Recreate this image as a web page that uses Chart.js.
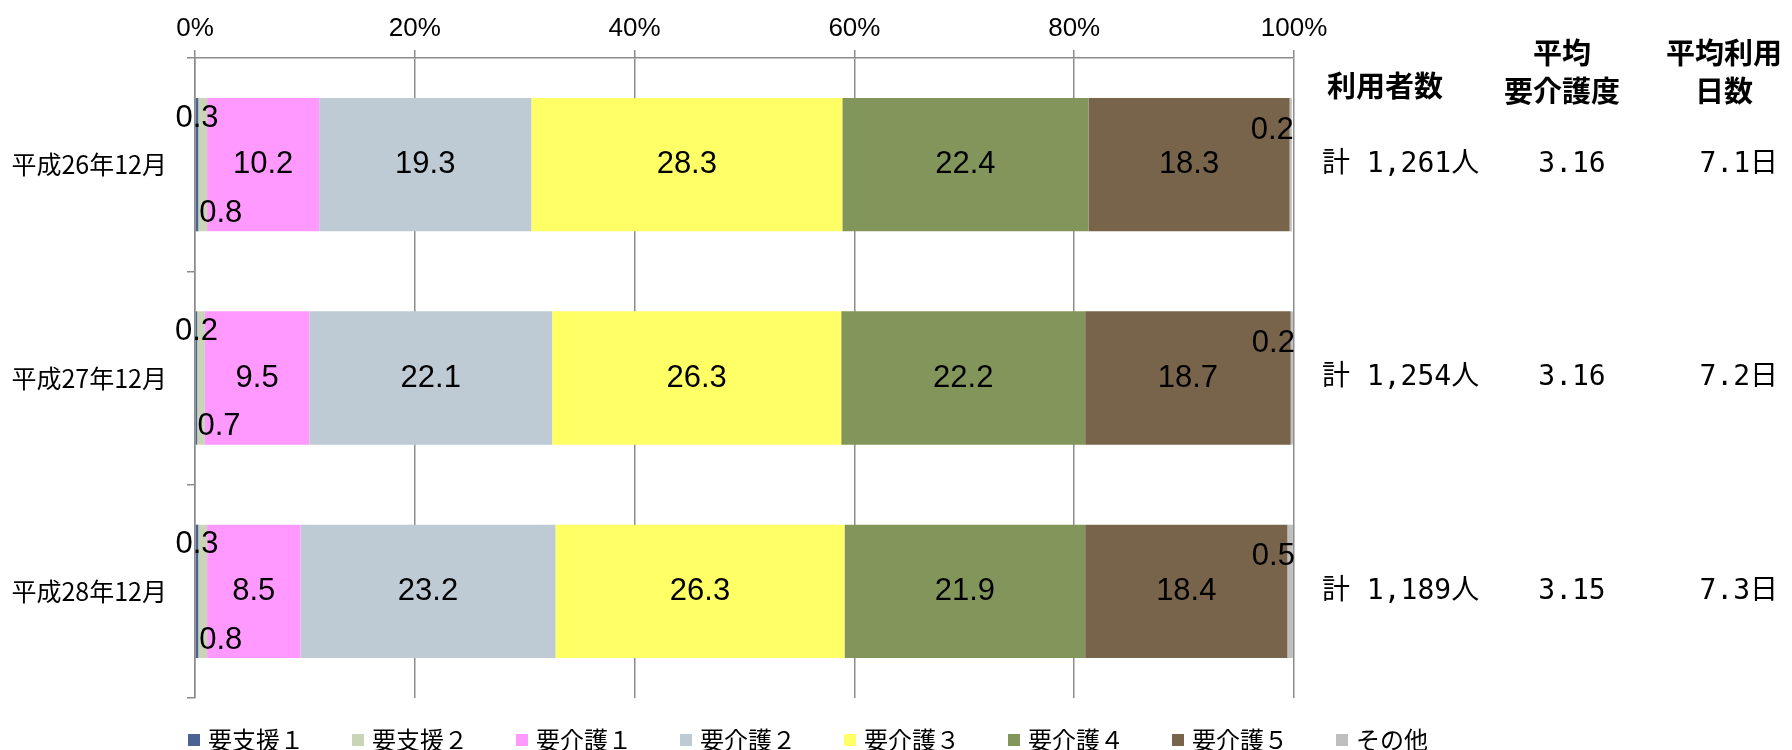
<!DOCTYPE html>
<html><head><meta charset="utf-8">
<script src="https://cdn.jsdelivr.net/npm/chart.js@4.4.1/dist/chart.umd.min.js"></script>
<style>html,body{margin:0;padding:0;background:#fff;}canvas{display:block;}</style>
</head><body>
<canvas id="c" width="1792" height="750"></canvas>
<script>
// ---- data ----
const categories = ['平成26年12月', '平成27年12月', '平成28年12月'];
const seriesNames = ['要支援１', '要支援２', '要介護１', '要介護２', '要介護３', '要介護４', '要介護５', 'その他'];
const shien1 = [0.3, 0.2, 0.3];
const shien2 = [0.8, 0.7, 0.8];
const kaigo1 = [10.2, 9.5, 8.5];
const kaigo2 = [19.3, 22.1, 23.2];
const kaigo3 = [28.3, 26.3, 26.3];
const kaigo4 = [22.4, 22.2, 21.9];
const kaigo5 = [18.3, 18.7, 18.4];
const sonota = [0.2, 0.2, 0.5];
const xTicks = [0, 20, 40, 60, 80, 100];
const tableHeaders = [['利用者数'], ['平均', '要介護度'], ['平均利用', '日数']];
const userCounts = ['計 1,261人', '計 1,254人', '計 1,189人'];
const avgCare = ['3.16', '3.16', '3.15'];
const avgDays = ['7.1日', '7.2日', '7.3日'];

const seriesValues = [shien1, shien2, kaigo1, kaigo2, kaigo3, kaigo4, kaigo5, sonota];
const seriesColors = ['#4A6394', '#CAD5B8', '#FF99FF', '#BFCBD4', '#FFFF66', '#82955A', '#77644B', '#BFBFBF'];

const GRID = '#8c8c8c';
const JP = '"Noto Sans CJK JP", "Noto Sans", sans-serif';
const LAT = '"Liberation Sans", Arial, sans-serif';

const labelPlugin = {
  id: 'barLabels',
  afterDatasetsDraw(chart) {
    const ctx = chart.ctx;
    ctx.save();
    ctx.font = '31px ' + LAT;
    ctx.fillStyle = '#000';
    chart.data.datasets.forEach((ds, di) => {
      const meta = chart.getDatasetMeta(di);
      meta.data.forEach((bar, i) => {
        const p = bar.getProps(['x', 'y', 'base', 'height'], true);
        const txt = ds.data[i].toFixed(1);
        const top = p.y - p.height / 2, bottom = p.y + p.height / 2;
        const mid = (p.x + p.base) / 2;
        let tx = mid, ty = p.y, align = 'center';
        if (di === 0) { ty = top + 20; }
        else if (di === 1) { tx = mid + 18; ty = bottom - 18; }
        else if (di === 7) { tx = p.x + 2; align = 'right'; ty = top + 32; }
        ctx.textAlign = align;
        ctx.textBaseline = 'middle';
        ctx.fillText(txt, tx, ty);
      });
    });
    ctx.restore();
  }
};

const sidePlugin = {
  id: 'sideTable',
  afterDraw(chart) {
    const ctx = chart.ctx;
    const ys = chart.scales.y;
    ctx.save();
    ctx.fillStyle = '#000';
    ctx.textBaseline = 'middle';
    // headers
    ctx.font = 'bold 29px ' + JP;
    ctx.textAlign = 'center';
    const hx = [1385, 1562, 1724];
    tableHeaders.forEach((lines, k) => {
      if (lines.length === 1) {
        ctx.fillText(lines[0], hx[k], 86);
      } else {
        ctx.fillText(lines[0], hx[k], 53);
        ctx.fillText(lines[1], hx[k], 91);
      }
    });
    // values
    ctx.font = '28px "DejaVu Sans Mono", "Noto Sans CJK JP", monospace';
    categories.forEach((c, i) => {
      const y = ys.getPixelForValue(i);
      ctx.textAlign = 'left';
      ctx.fillText(userCounts[i], 1322, y);
      ctx.textAlign = 'center';
      ctx.fillText(avgCare[i], 1572, y);
      ctx.textAlign = 'right';
      ctx.fillText(avgDays[i], 1778, y);
    });
    // legend
    ctx.font = '24px ' + JP;
    ctx.textAlign = 'left';
    chart.data.datasets.forEach((ds, i) => {
      const x0 = 188 + i * 164;
      ctx.fillStyle = ds.backgroundColor;
      ctx.fillRect(x0, 734, 12, 12);
      ctx.fillStyle = '#000';
      ctx.fillText(ds.label, x0 + 20, 740);
    });
    ctx.restore();
  }
};

new Chart(document.getElementById('c'), {
  type: 'bar',
  data: {
    labels: categories,
    datasets: seriesNames.map((name, i) => ({
      label: name,
      data: seriesValues[i],
      backgroundColor: seriesColors[i],
      borderWidth: 0,
      categoryPercentage: 1.0,
      barPercentage: 0.625
    }))
  },
  options: {
    indexAxis: 'y',
    responsive: false,
    animation: false,
    devicePixelRatio: 1,
    layout: { padding: { left: 0, top: 0, right: 498, bottom: 52 } },
    plugins: { legend: { display: false }, tooltip: { enabled: false } },
    scales: {
      x: {
        type: 'linear',
        position: 'top',
        stacked: true,
        min: 0, max: 100,
        afterBuildTicks(scale) { scale.ticks = xTicks.map(v => ({ value: v })); },
        afterFit(scale) { scale.height = 58; },
        ticks: {
          callback: v => v + '%',
          font: { family: LAT, size: 26 },
          color: '#000',
          padding: 6,
          maxRotation: 0
        },
        grid: { color: GRID, lineWidth: 1.5, tickLength: 8, drawOnChartArea: true },
        border: { display: true, color: GRID, width: 1.5 }
      },
      y: {
        stacked: true,
        afterFit(scale) { scale.width = 195; },
        ticks: { font: { family: JP, size: 25 }, color: '#000', padding: 20 },
        grid: { drawOnChartArea: false, color: GRID, lineWidth: 1.5, tickLength: 8, offset: true },
        border: { display: true, color: GRID, width: 1.5 }
      }
    }
  },
  plugins: [labelPlugin, sidePlugin]
});
</script>
</body></html>
